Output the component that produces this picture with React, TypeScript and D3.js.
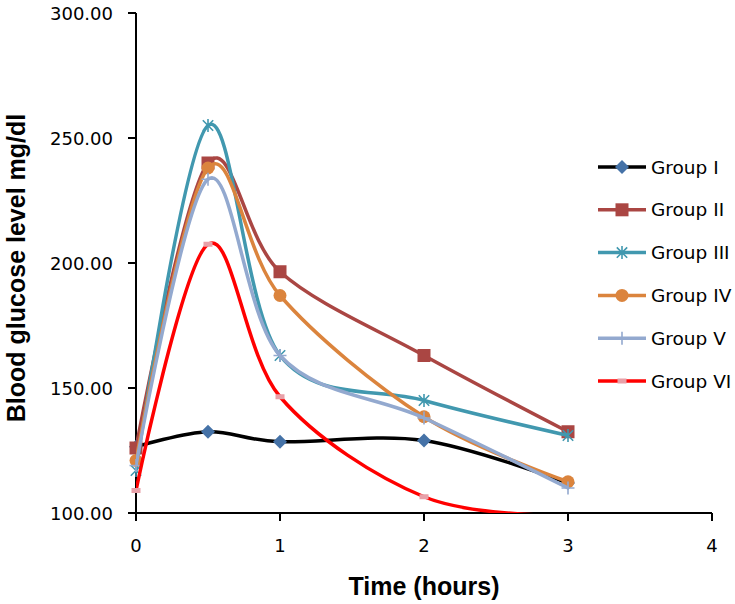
import * as d3 from 'd3';

// hours after glucose load
const times = [0, 0.5, 1, 2, 3];

const groupNames = ['Group I', 'Group II', 'Group III', 'Group IV', 'Group V', 'Group VI'];
const group1 = [126.5, 132.5, 128.5, 129, 112];
const group2 = [126, 240, 196.5, 163, 132.5];
const group3 = [117, 255, 163, 145, 131];
const group4 = [121, 238, 187, 138.5, 112.5];
const group5 = [119, 233.5, 163, 138, 110];
const group6 = [109, 207.5, 146.5, 106.5, 99];

const xTicks = [0, 1, 2, 3, 4];
const yTicks = [100, 150, 200, 250, 300];

const lineColors = ['#000000', '#AA4643', '#4198AF', '#DB843D', '#93A9CF', '#FF0000'];
const markerColors = ['#4572A7', '#AA4643', '#4198AF', '#DB843D', '#93A9CF', '#E8A0A8'];
const markerKinds = ['diamond', 'square', 'star', 'circle', 'plus', 'dash'];

const W = 735;
const H = 604;
const FONT = '"DejaVu Sans", sans-serif';

function Marker({ kind, x, y, color }: { kind: string; x: number; y: number; color: string }) {
  if (kind === 'diamond') {
    const r = 7;
    return <path d={`M${x},${y - r}L${x + r},${y}L${x},${y + r}L${x - r},${y}Z`} fill={color} />;
  }
  if (kind === 'square') {
    const r = 6.5;
    return <rect x={x - r} y={y - r} width={r * 2} height={r * 2} fill={color} />;
  }
  if (kind === 'circle') {
    return <circle cx={x} cy={y} r={6.5} fill={color} />;
  }
  if (kind === 'star') {
    const r = 6.5;
    const d = r * 0.8;
    return (
      <path
        d={`M${x},${y - r}V${y + r}M${x - d},${y - d}L${x + d},${y + d}M${x - d},${y + d}L${x + d},${y - d}`}
        stroke={color}
        strokeWidth={1.6}
        fill="none"
      />
    );
  }
  if (kind === 'plus') {
    const r = 6.5;
    return (
      <path d={`M${x},${y - r}V${y + r}M${x - r},${y}H${x + r}`} stroke={color} strokeWidth={1.6} fill="none" />
    );
  }
  // short dash
  return <rect x={x - 4.5} y={y - 2.5} width={9} height={5} fill={color} />;
}

export default function App() {
  const series = [group1, group2, group3, group4, group5, group6];

  const x = d3.scaleLinear().domain([0, 4]).range([136, 712]);
  const y = d3.scaleLinear().domain([100, 300]).range([513, 13]);

  const line = d3
    .line<number>()
    .x((_, i) => x(times[i]))
    .y((d) => y(d))
    .curve(d3.curveCardinal.tension(0));

  const legendY = d3.scaleLinear().domain([0, 5]).range([167, 381]);

  return (
    <svg
      width={W}
      height={H}
      style={{ position: 'absolute', left: 0, top: 0, background: '#fff' }}
      fontFamily={FONT}
    >
      <defs>
        <clipPath id="plot">
          <rect x={x(0)} y={y(300) - 10} width={x(4) - x(0) + 10} height={y(100) - y(300) + 10} />
        </clipPath>
      </defs>

      {/* y axis */}
      <line x1={x(0)} x2={x(0)} y1={y(300)} y2={y(100)} stroke="#000" strokeWidth={2} />
      {yTicks.map((t) => (
        <g key={t}>
          <line x1={x(0) - 8} x2={x(0)} y1={y(t)} y2={y(t)} stroke="#000" strokeWidth={2} />
          <text x={113} y={y(t) + 6.5} textAnchor="end" fontSize={18}>
            {d3.format('.2f')(t)}
          </text>
        </g>
      ))}

      {/* x axis */}
      <line x1={x(0) - 8} x2={x(4)} y1={y(100)} y2={y(100)} stroke="#000" strokeWidth={2} />
      {xTicks.map((t) => (
        <g key={t}>
          <line x1={x(t)} x2={x(t)} y1={y(100)} y2={y(100) + 8} stroke="#000" strokeWidth={2} />
          <text x={x(t)} y={552} textAnchor="middle" fontSize={18}>
            {t}
          </text>
        </g>
      ))}

      {/* series */}
      {series.map((vals, si) => (
        <g key={groupNames[si]}>
          <path
            d={line(vals) || ''}
            fill="none"
            stroke={lineColors[si]}
            strokeWidth={3.5}
            clipPath="url(#plot)"
          />
          {vals.map((v, i) =>
            v < 100 ? null : (
              <Marker key={i} kind={markerKinds[si]} x={x(times[i])} y={y(v)} color={markerColors[si]} />
            )
          )}
        </g>
      ))}

      {/* axis titles */}
      <text
        transform={`translate(25,268) rotate(-90)`}
        textAnchor="middle"
        fontFamily='"Liberation Sans", Arial, sans-serif'
        fontWeight="bold"
        fontSize={25}
      >
        Blood glucose level mg/dl
      </text>
      <text
        x={424}
        y={595}
        textAnchor="middle"
        fontFamily='"Liberation Sans", Arial, sans-serif'
        fontWeight="bold"
        fontSize={25}
      >
        Time (hours)
      </text>

      {/* legend */}
      {groupNames.map((name, i) => (
        <g key={name}>
          <line x1={598} x2={646} y1={legendY(i)} y2={legendY(i)} stroke={lineColors[i]} strokeWidth={3.5} />
          <Marker kind={markerKinds[i]} x={622} y={legendY(i)} color={markerColors[i]} />
          <text x={651} y={legendY(i) + 6.5} fontSize={18.5}>
            {name}
          </text>
        </g>
      ))}
    </svg>
  );
}
